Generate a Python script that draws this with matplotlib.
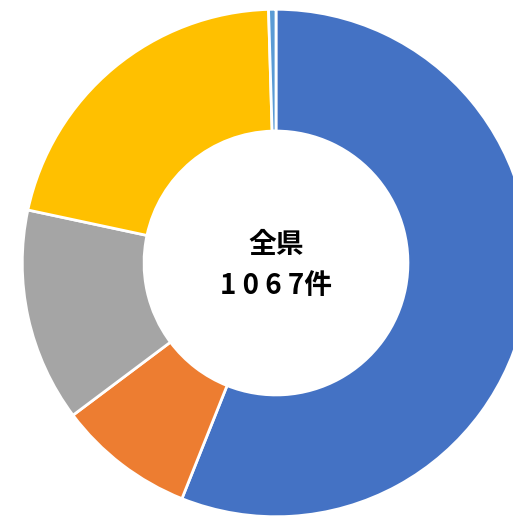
import matplotlib.pyplot as plt

plt.rcParams['font.family'] = ['Noto Sans CJK JP', 'DejaVu Sans']

labels = ['A', 'B', 'C', 'D', 'E']
counts = [598, 93, 145, 226, 5]
colors = ['#4472C4', '#ED7D31', '#A5A5A5', '#FFC000', '#5B9BD5']
title_line = '全県'
total_line = '1 0 6 7件'

fig = plt.figure(figsize=(5.13, 5.20), dpi=100)
ax = fig.add_axes([21 / 513, 2 / 520, 510 / 513, 510 / 520])
ax.pie(counts, colors=colors, startangle=90, counterclock=False,
       radius=1.0, wedgeprops=dict(width=0.48, edgecolor='white', linewidth=2))
ax.set_xlim(-1.005, 1.005)
ax.set_ylim(-1.005, 1.005)
ax.text(0, 0.07, title_line, ha='center', va='center', fontsize=20, fontweight='bold')
ax.text(0, -0.09, total_line, ha='center', va='center', fontsize=20, fontweight='bold')
ax.axis('off')
fig.savefig('out.png', dpi=100)
